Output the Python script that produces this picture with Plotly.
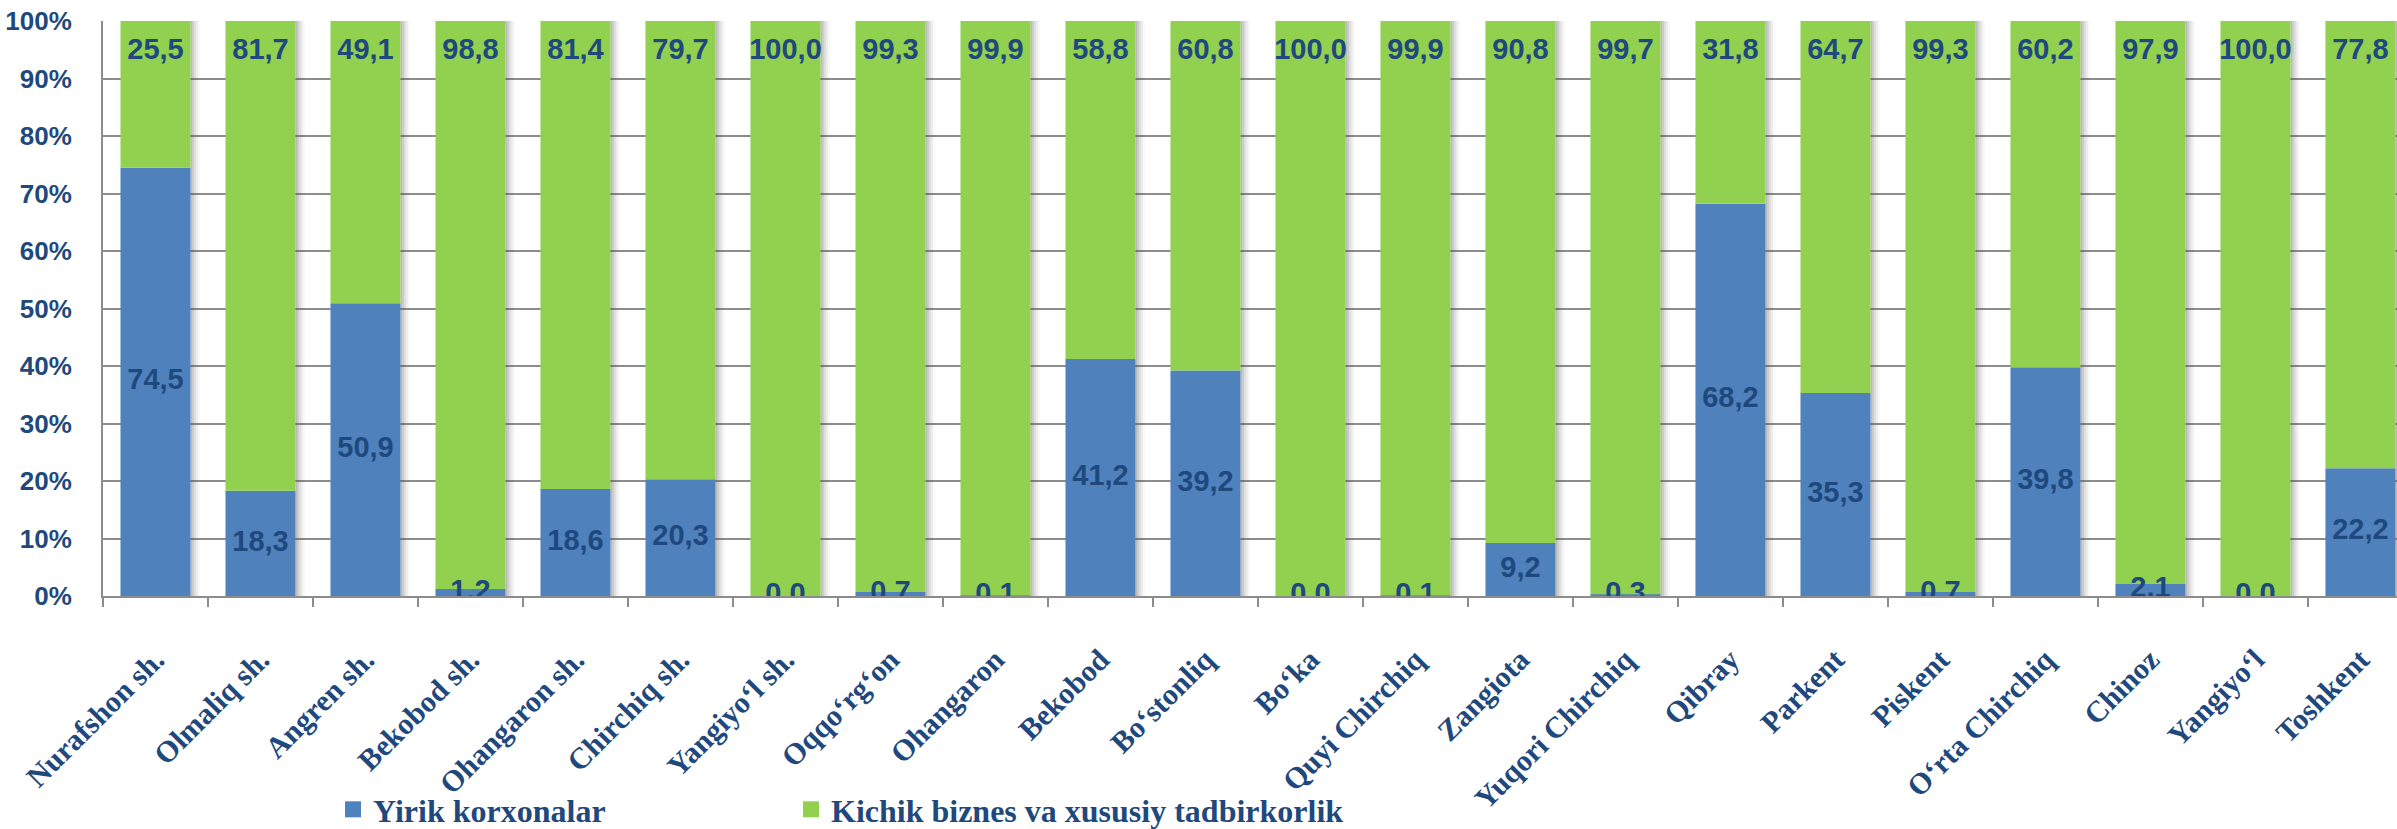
import plotly.graph_objects as go

categories = ["Nurafshon sh.", "Olmaliq sh.", "Angren sh.", "Bekobod sh.", "Ohangaron sh.",
              "Chirchiq sh.", "Yangiyo\u2018l sh.", "Oqqo\u2018rg\u2018on", "Ohangaron", "Bekobod",
              "Bo\u2018stonliq", "Bo\u2018ka", "Quyi Chirchiq", "Zangiota", "Yuqori Chirchiq",
              "Qibray", "Parkent", "Piskent", "O\u2018rta Chirchiq", "Chinoz", "Yangiyo\u2018l", "Toshkent"]
yirik = [74.5, 18.3, 50.9, 1.2, 18.6, 20.3, 0.0, 0.7, 0.1, 41.2, 39.2,
         0.0, 0.1, 9.2, 0.3, 68.2, 35.3, 0.7, 39.8, 2.1, 0.0, 22.2]
kichik = [25.5, 81.7, 49.1, 98.8, 81.4, 79.7, 100.0, 99.3, 99.9, 58.8, 60.8,
          100.0, 99.9, 90.8, 99.7, 31.8, 64.7, 99.3, 60.2, 97.9, 100.0, 77.8]
series_names = ["Yirik korxonalar", "Kichik biznes va xususiy tadbirkorlik"]
y_ticks = [0, 10, 20, 30, 40, 50, 60, 70, 80, 90, 100]
y_tick_labels = [f"{v}%" for v in y_ticks]

BLUE = "#4F81BD"
GREEN = "#92D050"
TEXT = "#1F497D"
GRID = "#8C8C8C"
BAR_W = 0.667


def fmt(v):
    return f"{v:.1f}".replace(".", ",")


totals = [a + b for a, b in zip(yirik, kichik)]

fig = go.Figure()

# soft shadow on the right side of each bar
shadow_alphas = [0.42, 0.30, 0.19, 0.10, 0.04]
band = 0.018
for i, a in enumerate(shadow_alphas):
    fig.add_trace(go.Bar(
        x=categories, y=totals, width=band, offset=BAR_W / 2 + i * band,
        marker=dict(color=f"rgba(90,90,90,{a})", line=dict(width=0)),
        showlegend=False, hoverinfo="skip"))

fig.add_trace(go.Bar(
    x=categories, y=yirik, width=BAR_W, name=series_names[0],
    marker=dict(color=BLUE, line=dict(width=0)), showlegend=False,
    legendgroup="a"))
fig.add_trace(go.Bar(
    x=categories, y=kichik, base=yirik, width=BAR_W, name=series_names[1],
    marker=dict(color=GREEN, line=dict(width=0)), showlegend=False,
    legendgroup="b"))

label_font = dict(family="Liberation Sans", size=29, color=TEXT, weight="bold")

# labels of the lower segments, centred on the segment
fig.add_trace(go.Scatter(
    x=categories, y=[v / 2 for v in yirik], mode="text",
    text=[fmt(v) for v in yirik], textposition="middle center",
    textfont=label_font, showlegend=False, hoverinfo="skip"))

# labels of the upper segments, just under the top of the bar
fig.add_trace(go.Scatter(
    x=categories, y=totals, mode="markers+text",
    marker=dict(size=24, color="rgba(0,0,0,0)"),
    text=[fmt(v) for v in kichik], textposition="bottom center",
    textfont=label_font, showlegend=False, hoverinfo="skip"))

# legend keys (square swatches like the original)
for nm, col, lg, grp in [(series_names[0], BLUE, "legend", "a"),
                         (series_names[1], GREEN, "legend2", "b")]:
    fig.add_trace(go.Scatter(
        x=[None], y=[None], mode="markers", name=nm, legend=lg, legendgroup=grp,
        marker=dict(symbol="square", size=16, color=col, line=dict(width=0)),
        hoverinfo="skip"))

legend_font = dict(family="Liberation Serif", size=32, color=TEXT, weight="bold")
xtick_font = dict(family="Liberation Serif", size=30, color=TEXT, weight="bold")

legend_common = dict(orientation="h", xref="container", yref="container",
                     y=0.0235, xanchor="left", yanchor="middle",
                     font=legend_font, bgcolor="rgba(0,0,0,0)")

fig.update_layout(
    width=2397, height=829,
    barmode="overlay",
    paper_bgcolor="white", plot_bgcolor="white",
    margin=dict(l=103, r=0, t=21, b=233, autoexpand=False),
    showlegend=True,
    legend=dict(x=333 / 2397, **legend_common),
    legend2=dict(x=791 / 2397, **legend_common),
    xaxis=dict(type="category", range=[-0.5, 21.348], tickangle=-45, automargin=False,
               tickfont=xtick_font, showline=True, linecolor=GRID, linewidth=2,
               ticks="outside", tickson="boundaries", ticklen=9, tickcolor=GRID,
               tickwidth=2, showgrid=False, ticklabelstandoff=32, fixedrange=True),
    yaxis=dict(range=[0, 100], tickmode="array", tickvals=y_ticks, ticktext=y_tick_labels,
               automargin=False,
               tickfont=dict(family="Liberation Sans", size=26, color=TEXT, weight="bold"),
               showline=True, linecolor=GRID, linewidth=2, gridcolor=GRID, gridwidth=2,
               zeroline=False, ticks="", ticklabelstandoff=24, fixedrange=True),
)

fig.write_html("out.html", config={"displayModeBar": False},
               post_script="document.body.style.margin='0';")
